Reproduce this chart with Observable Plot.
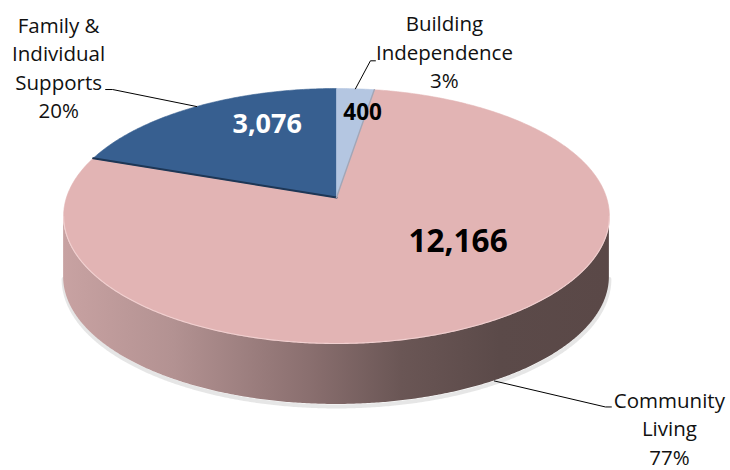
<!DOCTYPE html>
<html>
<head>
<meta charset="utf-8">
<script src="https://cdn.jsdelivr.net/npm/d3@7"></script>
<script src="https://cdn.jsdelivr.net/npm/@observablehq/plot@0.6"></script>
<style>
  html, body { margin: 0; padding: 0; background: #ffffff; }
  #chart { width: 730px; height: 470px; }
</style>
</head>
<body>
<div id="chart"></div>
<script>
// ---------------- DATA ----------------
const categories = ["Building Independence", "Community Living", "Family & Individual Supports"];
const values = [400, 12166, 3076];
const valueLabels = ["400", "12,166", "3,076"];
const percentLabels = ["3%", "77%", "20%"];
const nameLines = [["Building", "Independence"], ["Community", "Living"], ["Family &", "Individual", "Supports"]];

// ---------------- STYLE / LAYOUT ----------------
const topColors = ["#b4c6e1", "#e2b4b4", "#375f90"];
const valueColors = ["#000000", "#000000", "#ffffff"];
const valueSizes = [22.5, 31.5, 27];
// value-label placement: radius fraction along mid-angle + pixel nudge
const valueR = [0.95, 0.55, 0.62];
const valueNudge = [[8, 19.5], [40, -19], [21, -14.5]];
// leader lines: where the line leaves the slice (on top rim or on side bottom), bend, end
const leaderOnSide = [false, true, false];
const leaderBend = [[15, -28], [111, 26], [-84, -17]];
const leaderEnd = [[20, -28], [117, 26], [-91, -17]];
const nameOffset = [[89, -38], [175, 46], [-138, -40]];

const W = 730, H = 470;
const cx = 336, cy = 197, A = 270, B = 124.8, k = 0.145, depth = 61;

function proj(theta, r = 1, dz = 0) {
  const u = r * Math.sin(theta), v = -r * Math.cos(theta), w = 1 - k * v;
  return {x: cx + A * u / w, y: cy + B * v / w + dz};
}

const total = d3.sum(values);
let acc = 0;
const slices = values.map((v, i) => {
  const a0 = acc / total * 2 * Math.PI;
  acc += v;
  const a1 = acc / total * 2 * Math.PI;
  return {i, name: categories[i], value: v, a0, a1, mid: (a0 + a1) / 2};
});

function slicePolygon(s) {
  const pts = [{...proj(0, 0)}];
  const n = Math.max(8, Math.ceil((s.a1 - s.a0) / 0.01));
  for (let j = 0; j <= n; j++) pts.push(proj(s.a0 + (s.a1 - s.a0) * j / n));
  pts.push({...proj(0, 0)});
  return pts;
}

// Visible side (front) between the two silhouette tangent points
const thR = Math.acos(-k), thL = 2 * Math.PI - thR;
const sidePts = d3.range(0, 401).map(j => proj(thR + (thL - thR) * j / 400));
const xLeft = d3.min(sidePts, d => d.x), xRight = d3.max(sidePts, d => d.x);

const drawOrder = [1, 2, 0];

const marks = [];

// gradient defs for the side
marks.push((index, scales) => {
  const defs = d3.create("svg:defs");
  const lg = defs.append("linearGradient").attr("id", "sideGrad")
    .attr("gradientUnits", "userSpaceOnUse")
    .attr("x1", scales.x(xLeft)).attr("x2", scales.x(xRight)).attr("y1", 0).attr("y2", 0);
  [[0, "#c8a2a2"], [0.2, "#b39292"], [0.45, "#8a6f6f"], [0.62, "#6a5655"], [0.8, "#5b4a49"], [1, "#5a4847"]]
    .forEach(([o, c]) => lg.append("stop").attr("offset", o).attr("stop-color", c));
  return defs.node();
});

// soft shadow under the side
marks.push(Plot.line(sidePts, {x: "x", y: d => d.y + depth + 2, stroke: "#dcdcdc", strokeWidth: 4, strokeOpacity: 0.7}));
// side wall
marks.push(Plot.areaY(sidePts, {x: "x", y1: "y", y2: d => d.y + depth, fill: "url(#sideGrad)", stroke: "none"}));

// top faces
for (const i of drawOrder) {
  const s = slices[i];
  marks.push(Plot.line(slicePolygon(s), {x: "x", y: "y", fill: topColors[i], stroke: topColors[i], strokeWidth: 0.6, curve: "linear"}));
}
// rim highlight on the front of the top face
marks.push(Plot.line(sidePts, {x: "x", y: "y", stroke: "#f1d0d0", strokeWidth: 1.1}));

// edge of the Family slice (its thin side) and the split after Building Independence
{
  const fam = slices[2], bi = slices[0];
  marks.push(Plot.line([proj(fam.a0), proj(0, 0)], {x: "x", y: "y", stroke: "#1d3655", strokeWidth: 2}));
  marks.push(Plot.line([proj(bi.a1), proj(0, 0)], {x: "x", y: "y", stroke: "#a3a6b6", strokeWidth: 1.4}));
}

// leader lines + category labels
const leaderData = [];
const nameData = [];
slices.forEach((s, i) => {
  const a = proj(s.mid, 1, leaderOnSide[i] ? depth : 0);
  leaderData.push({x: a.x, y: a.y, g: i});
  leaderData.push({x: a.x + leaderBend[i][0], y: a.y + leaderBend[i][1], g: i});
  leaderData.push({x: a.x + leaderEnd[i][0], y: a.y + leaderEnd[i][1], g: i});
  nameData.push({x: a.x + nameOffset[i][0], y: a.y + nameOffset[i][1], text: [...nameLines[i], percentLabels[i]].join("\n")});
});
marks.push(Plot.line(leaderData, {x: "x", y: "y", z: "g", stroke: "#000", strokeWidth: 1}));
marks.push(Plot.text(nameData, {x: "x", y: "y", text: "text", fill: "#111", fontSize: 20.5, lineHeight: 1.39, fontFamily: "Open Sans", textAnchor: "middle", lineAnchor: "middle"}));

// value labels
slices.forEach((s, i) => {
  const p = proj(s.mid, valueR[i]);
  marks.push(Plot.text([{x: p.x + valueNudge[i][0], y: p.y + valueNudge[i][1], t: valueLabels[i]}],
    {x: "x", y: "y", text: "t", fill: valueColors[i], fontSize: valueSizes[i], fontWeight: "bold", fontFamily: "Open Sans", textAnchor: "middle", lineAnchor: "middle"}));
});

const chart = Plot.plot({
  width: W, height: H, margin: 0,
  x: {domain: [0, W], range: [0, W], axis: null},
  y: {domain: [0, H], range: [0, H], axis: null},
  style: {background: "#ffffff", fontFamily: "Open Sans"},
  marks
});
document.getElementById("chart").appendChild(chart);
</script>
</body>
</html>
